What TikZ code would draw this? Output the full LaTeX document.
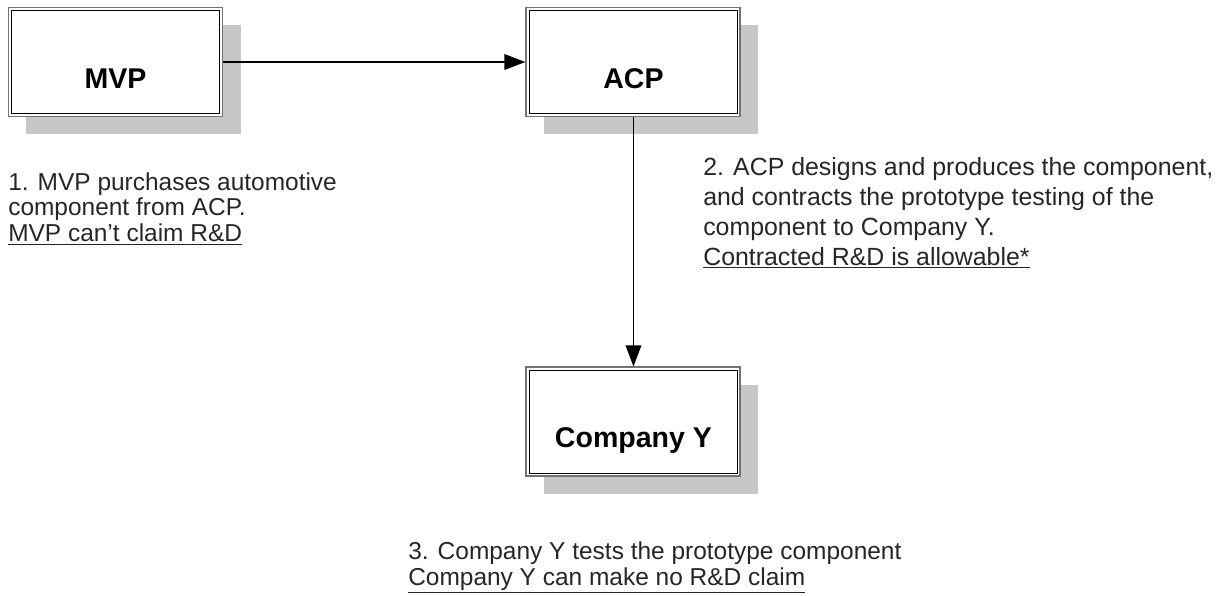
\documentclass[tikz,border=0pt]{standalone}
\usepackage{fontspec}
\setmainfont{Liberation Sans}
\usepackage{tikz}
\usetikzlibrary{arrows.meta, positioning, shadows}
\tikzset{
    party/.style={rectangle, draw=black!55, line width=1.4pt, fill=white,
      minimum width=5.35cm, minimum height=2.725cm,
      font=\fontsize{20.3}{24}\selectfont\bfseries, text height=37pt, text depth=0pt,
      drop shadow={shadow xshift=0.45cm, shadow yshift=-0.45cm, fill=black!22, opacity=1}},
    inner frame/.style={line width=0.9pt},
    note/.style={align=left, anchor=base west, inner sep=0pt, text=black!85},
    flow/.style={-{Triangle[length=15pt, width=11pt]}, line width=1.3pt},
}

\begin{document}
\begin{tikzpicture}
    \useasboundingbox (0,0) rectangle (30.625,-14.9);

    \node[party] (mvp) at (2.8875,-1.55) {MVP};
    \node[party, right=7.55cm of mvp] (acp) {ACP};
    \node[party, below=6.225cm of acp] (coy) {Company Y};

    % double border
    \foreach \n in {mvp, acp, coy}
      \draw[inner frame] ([shift={(0.092,0.092)}]\n.south west) rectangle ([shift={(-0.092,-0.092)}]\n.north east);

    \draw (mvp) edge[flow] (acp);
    \draw (acp) edge[flow] (coy);

    % notes (anchored at the baseline of their last line)
    \node[note, font=\fontsize{17.4}{18.3}\selectfont] (n1) at (0.2,-6.04)
      {1. MVP purchases automotive\\component from ACP.\\\underline{MVP can’t claim R\&D}};
    \node[note, font=\fontsize{17.7}{21.3}\selectfont] (n2) at (17.575,-6.625)
      {2. ACP designs and produces the component,\\and contracts the prototype testing of the\\component to Company Y.\\\underline{Contracted R\&D is allowable*}};
    \node[note, font=\fontsize{17.4}{18}\selectfont] (n3) at (10.2,-14.63)
      {3. Company Y tests the prototype component\\\underline{Company Y can make no R\&D claim}};
\end{tikzpicture}
\end{document}
